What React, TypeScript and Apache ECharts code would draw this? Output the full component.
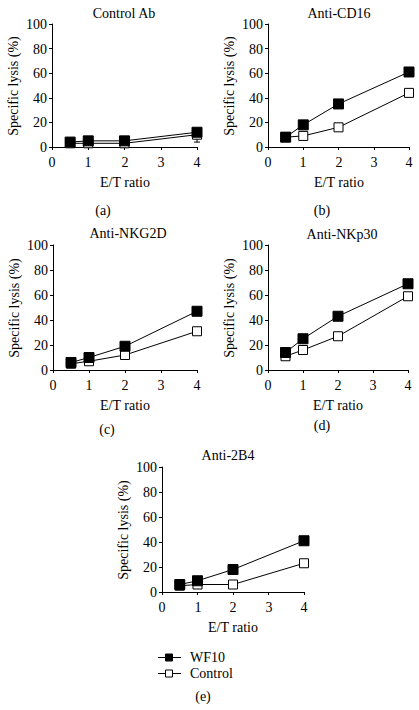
import React, { useEffect, useRef } from "react";
import * as echarts from "echarts";

const etRatios = [0.5, 1, 2, 4];
const panelTitles = ["Control Ab", "Anti-CD16", "Anti-NKG2D", "Anti-NKp30", "Anti-2B4"];
const panelLetters = ["(a)", "(b)", "(c)", "(d)", "(e)"];
const wf10A = [4, 5, 5, 12];
const controlA = [3, 3, 3, 10];
const wf10B = [8, 18, 35, 61];
const controlB = [8, 9, 16, 44];
const wf10C = [6, 10, 19, 47];
const controlC = [5, 7, 12, 31];
const wf10D = [14, 25, 43, 69];
const controlD = [11, 16, 27, 59];
const wf10E = [6, 9, 18, 41];
const controlE = [5, 6, 6, 23];
const errorA = [[4, 10, 4]]; // [x, value, lower]
const seriesNames = ["WF10", "Control"];
const xAxisName = "E/T ratio";
const yAxisName = "Specific lysis (%)";
const xTickValues = [0, 1, 2, 3, 4];
const yTickValues = [0, 20, 40, 60, 80, 100];

const wf10All = [wf10A, wf10B, wf10C, wf10D, wf10E];
const controlAll = [controlA, controlB, controlC, controlD, controlE];

const FONT = "Liberation Serif";

const grids = [
  { left: 52, top: 24, width: 145, height: 123 },
  { left: 268, top: 24, width: 141, height: 123 },
  { left: 53, top: 245, width: 144, height: 125 },
  { left: 268, top: 245, width: 140, height: 125 },
  { left: 162, top: 467, width: 142, height: 125 },
];
const titlePos = [
  [124, 13],
  [339, 13],
  [128, 233],
  [342, 234],
  [228, 455],
];
const letterPos = [
  [103, 210],
  [322, 210],
  [107, 429],
  [322, 425],
  [203, 696],
];

const txt = (text: string, x: number, y: number, align: string, rotation?: number) => {
  const el: any = {
    type: "text",
    x: Math.round(x),
    y: Math.round(y),
    style: { text, fill: "#000", fontFamily: FONT, fontSize: 14, fontWeight: "normal", align, verticalAlign: "middle" },
  };
  if (rotation) el.rotation = rotation;
  return el;
};

export default function App() {
  const ref = useRef<HTMLDivElement>(null);
  useEffect(() => {
    document.body.style.margin = "0";
    const chart = echarts.init(ref.current!, null, { renderer: "svg" });
    const axisCommon = {
      axisLine: { show: true, lineStyle: { color: "#000", width: 1 } },
      axisTick: { show: true, inside: false, length: 3, lineStyle: { color: "#000" } },
      splitLine: { show: false },
      axisLabel: { show: false },
    };
    const xAxes = grids.map((_, i) => ({
      ...axisCommon,
      type: "value",
      gridIndex: i,
      min: 0,
      max: 4,
      interval: 1,
    }));
    const yAxes = grids.map((_, i) => ({
      ...axisCommon,
      type: "value",
      gridIndex: i,
      min: 0,
      max: 100,
      interval: 20,
    }));
    const series: any[] = [];
    grids.forEach((_, i) => {
      series.push({
        type: "line",
        name: seriesNames[1],
        xAxisIndex: i,
        yAxisIndex: i,
        data: etRatios.map((x, k) => [x, controlAll[i][k]]),
        symbol: "rect",
        symbolSize: 9,
        lineStyle: { color: "#000", width: 1 },
        itemStyle: { color: "#fff", borderColor: "#000", borderWidth: 1 },
        z: 3,
      });
      series.push({
        type: "line",
        name: seriesNames[0],
        xAxisIndex: i,
        yAxisIndex: i,
        data: etRatios.map((x, k) => [x, wf10All[i][k]]),
        symbol: "rect",
        symbolSize: 10,
        lineStyle: { color: "#000", width: 1 },
        itemStyle: { color: "#000", borderColor: "#000", borderWidth: 1 },
        z: 4,
      });
    });
    series.push({
      type: "custom",
      xAxisIndex: 0,
      yAxisIndex: 0,
      z: 2,
      data: errorA,
      renderItem: (params: any, api: any) => {
        const top = api.coord([api.value(0), api.value(1)]);
        const bot = api.coord([api.value(0), api.value(2)]);
        return {
          type: "group",
          children: [
            { type: "line", shape: { x1: top[0], y1: top[1], x2: bot[0], y2: bot[1] }, style: { stroke: "#000", lineWidth: 1 } },
            { type: "line", shape: { x1: bot[0] - 3, y1: bot[1], x2: bot[0] + 3, y2: bot[1] }, style: { stroke: "#000", lineWidth: 1 } },
          ],
        };
      },
    });
    chart.setOption({
      animation: false,
      backgroundColor: "#fff",
      textStyle: { fontFamily: FONT },
      grid: grids,
      xAxis: xAxes,
      yAxis: yAxes,
      series,
    });

    const graphics: any[] = [];
    grids.forEach((_, i) => {
      const finder = { xAxisIndex: i, yAxisIndex: i };
      xTickValues.forEach((v) => {
        const p = chart.convertToPixel(finder, [v, 0]) as number[];
        graphics.push(txt(String(v), p[0], p[1] + 15, "center"));
      });
      yTickValues.forEach((v) => {
        const p = chart.convertToPixel(finder, [0, v]) as number[];
        graphics.push(txt(String(v), p[0] - 5, p[1], "right"));
      });
      const xc = chart.convertToPixel(finder, [2, 0]) as number[];
      graphics.push(txt(xAxisName, xc[0], xc[1] + 35, "center"));
      const yc = chart.convertToPixel(finder, [0, 50]) as number[];
      graphics.push(txt(yAxisName, yc[0] - 39, yc[1], "center", Math.PI / 2));
      graphics.push(txt(panelTitles[i], titlePos[i][0], titlePos[i][1], "center"));
      graphics.push(txt(panelLetters[i], letterPos[i][0], letterPos[i][1], "center"));
    });
    const legendY = [657, 673];
    seriesNames.forEach((name, k) => {
      const y = legendY[k];
      graphics.push({ type: "line", shape: { x1: 158, y1: y + 0.5, x2: 181, y2: y + 0.5 }, style: { stroke: "#000", lineWidth: 1 } });
      graphics.push({
        type: "rect",
        shape: { x: 165.5, y: y - 3, width: 7, height: 7 },
        style: { fill: k === 0 ? "#000" : "#fff", stroke: "#000", lineWidth: 1 },
      });
      graphics.push(txt(name, 190, y, "left"));
    });
    chart.setOption({ graphic: graphics });
    return () => chart.dispose();
  }, []);
  return <div ref={ref} style={{ width: 419, height: 710 }} />;
}
